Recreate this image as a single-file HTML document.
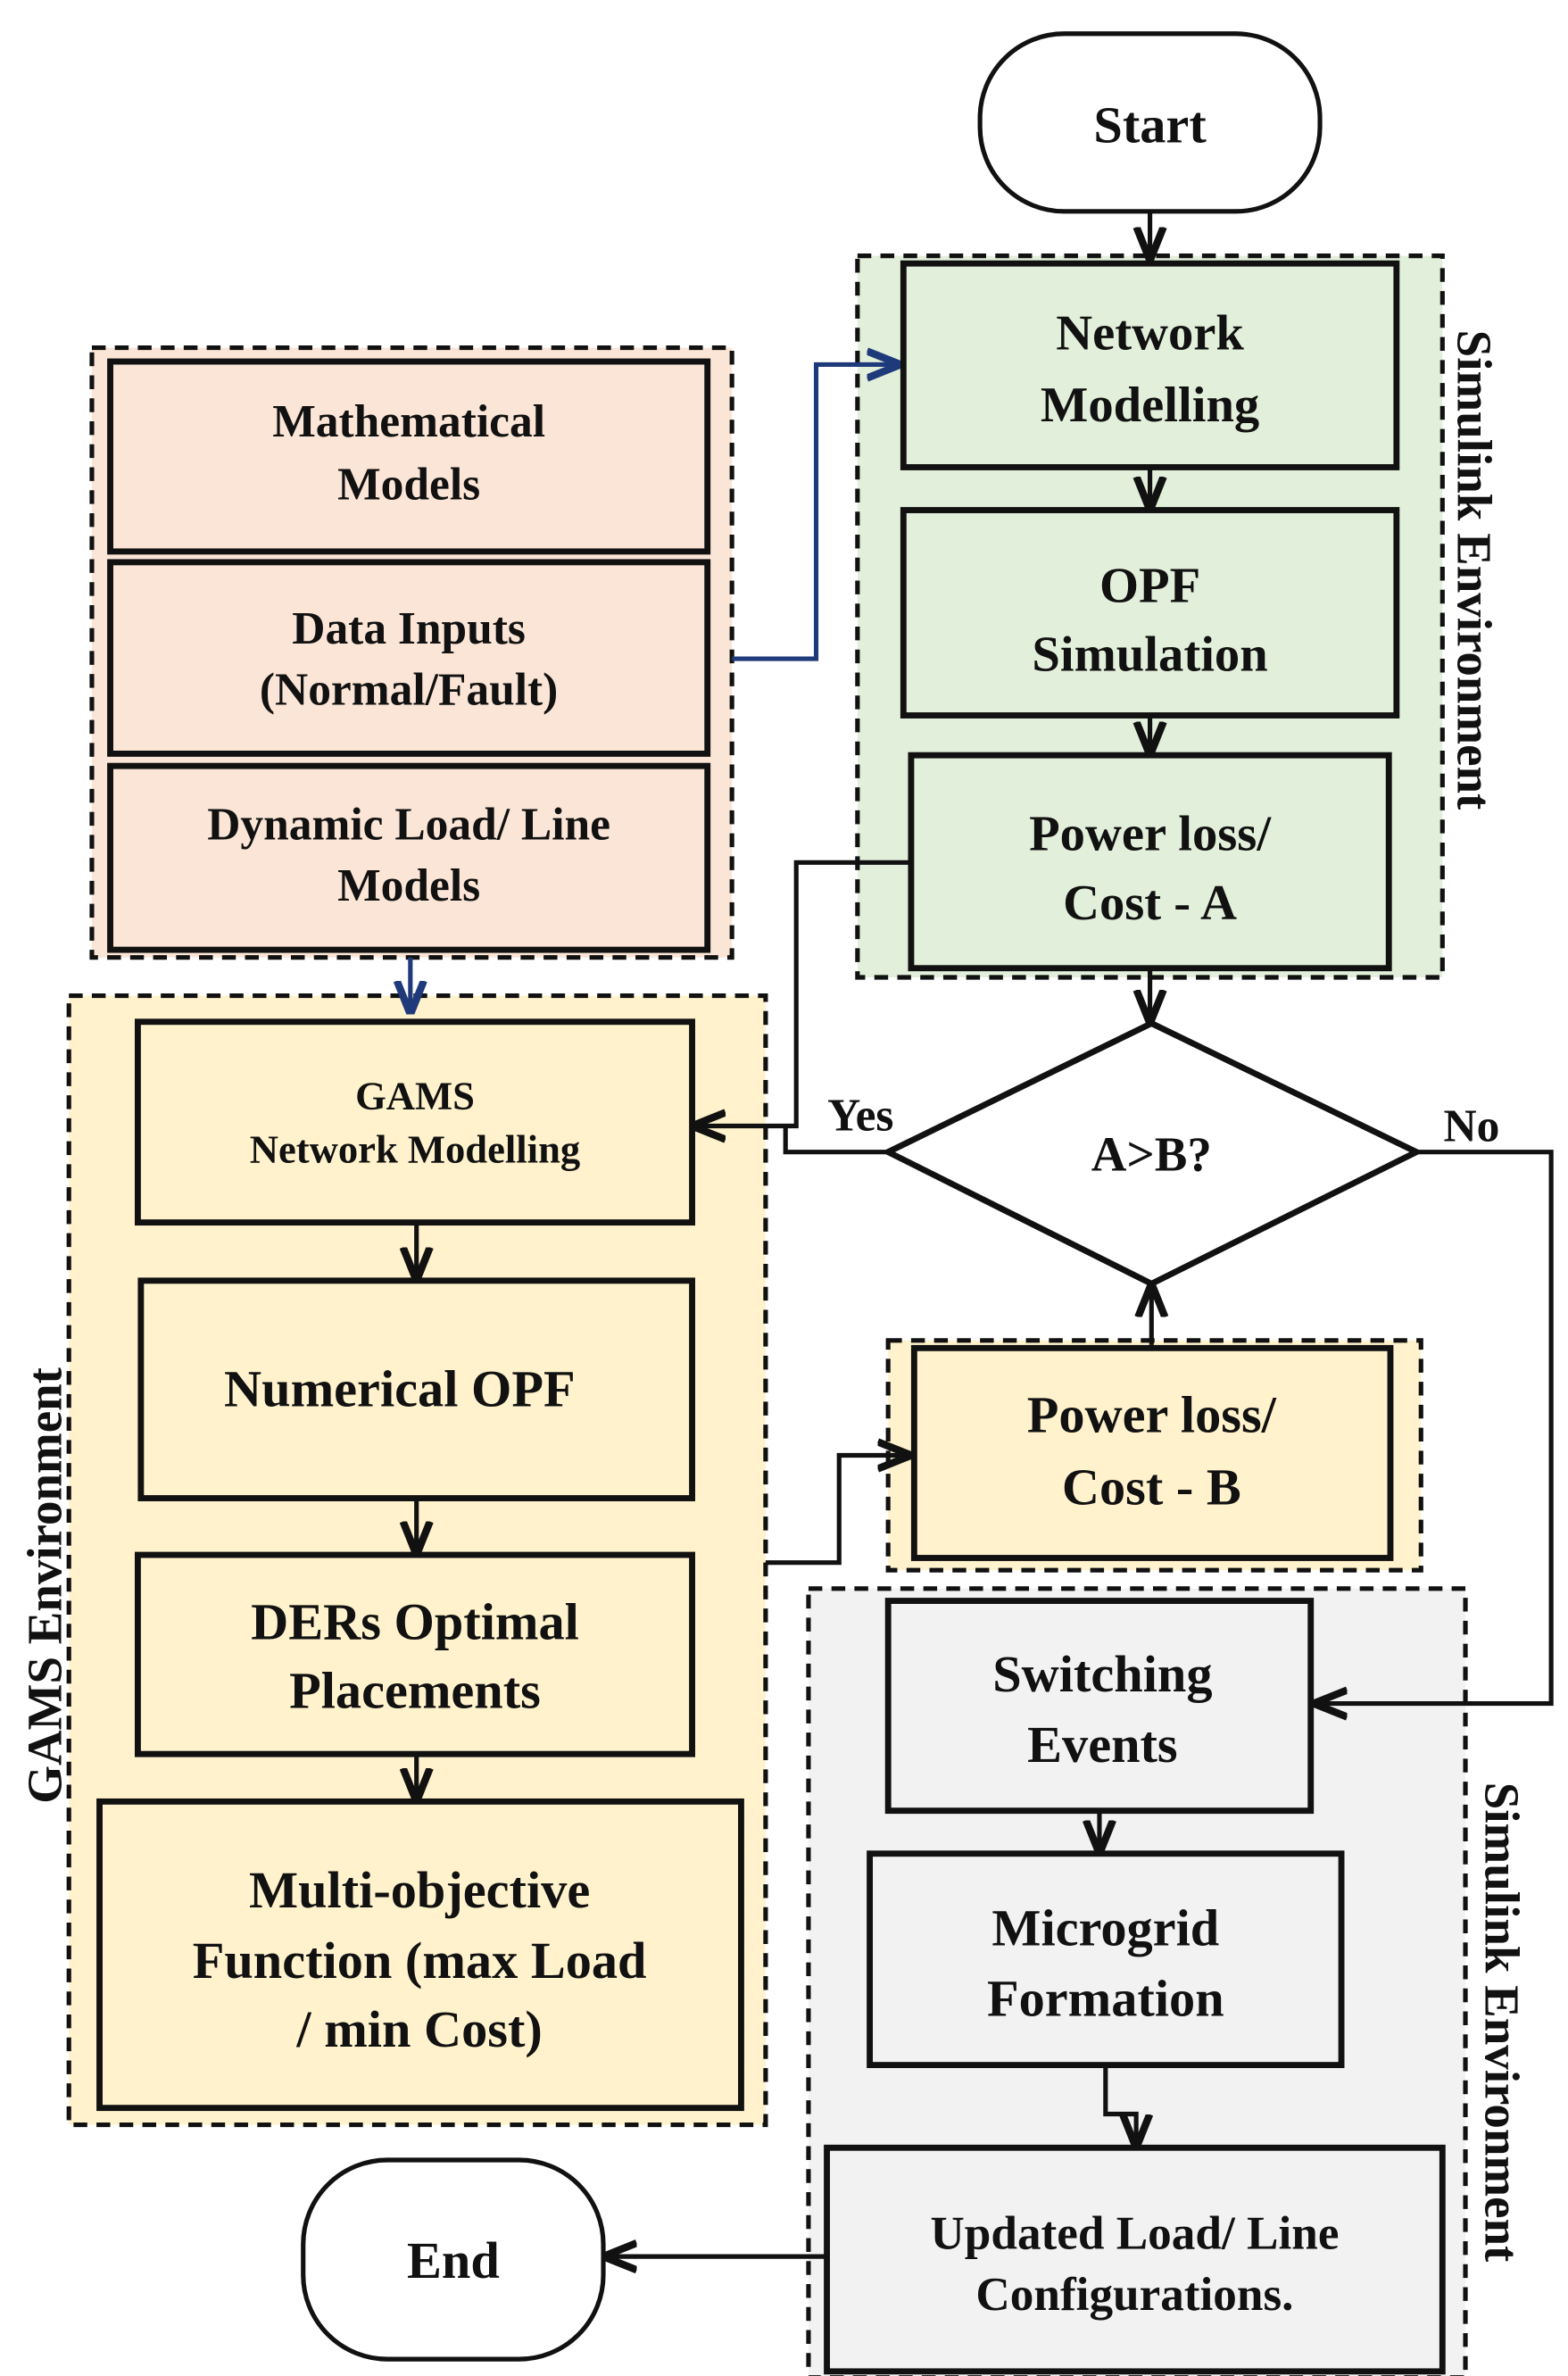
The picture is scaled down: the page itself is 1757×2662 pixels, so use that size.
<!DOCTYPE html>
<html><head><meta charset="utf-8"><style>
html,body{margin:0;padding:0;background:#fff}
svg{display:block}
svg text{font-family:"Liberation Serif","DejaVu Serif","Times New Roman",serif !important;font-weight:bold;fill:#111}
</style></head><body>
<svg width="1757" height="2662" viewBox="0 0 1024 1551" preserveAspectRatio="none" xmlns="http://www.w3.org/2000/svg" font-family="Liberation Serif, DejaVu Serif, serif" font-weight="bold">
<defs>
<marker id="a" viewBox="0 0 10 10" refX="9" refY="5" markerWidth="22" markerHeight="22" orient="auto" markerUnits="userSpaceOnUse"><path d="M0,1 L10,5 L0,9" fill="none" stroke="#111" stroke-width="2.2"/></marker>
<marker id="ab" viewBox="0 0 10 10" refX="9" refY="5" markerWidth="22" markerHeight="22" orient="auto" markerUnits="userSpaceOnUse"><path d="M0,1 L10,5 L0,9" fill="none" stroke="#1f3a7a" stroke-width="2.2"/></marker>
</defs>

<rect x="560" y="167" width="382" height="471" fill="#e2efda" stroke="#111" stroke-width="3" stroke-dasharray="9,6"/>
<rect x="60" y="227" width="418" height="398" fill="#fbe5d6" stroke="#111" stroke-width="3" stroke-dasharray="9,6"/>
<rect x="45" y="650" width="455" height="737" fill="#fff2cc" stroke="#111" stroke-width="3" stroke-dasharray="9,6"/>
<rect x="580" y="875" width="348" height="150" fill="#fff2cc" stroke="#111" stroke-width="3" stroke-dasharray="9,6"/>
<rect x="528" y="1037" width="429" height="515" fill="#f2f2f2" stroke="#111" stroke-width="3" stroke-dasharray="9,6"/>

<rect x="640" y="22" width="222" height="116" rx="55" fill="#fff" stroke="#111" stroke-width="3"/>
<text x="751" y="93" font-size="34" text-anchor="middle">Start</text>
<rect x="198" y="1410" width="196" height="130" rx="55" fill="#fff" stroke="#111" stroke-width="3"/>
<text x="296" y="1487" font-size="34" text-anchor="middle">End</text>

<g fill="#e2efda" stroke="#111" stroke-width="4">
<rect x="590" y="172" width="322" height="133"/>
<rect x="590" y="333" width="322" height="134"/>
<rect x="595" y="493" width="312" height="139"/>
</g>
<g font-size="33" text-anchor="middle">
<text x="751" y="228">Network</text><text x="751" y="275">Modelling</text>
<text x="751" y="393">OPF</text><text x="751" y="438">Simulation</text>
<text x="751" y="555">Power loss/</text><text x="751" y="600">Cost - A</text>
</g>

<g fill="#fbe5d6" stroke="#111" stroke-width="4">
<rect x="72" y="236" width="390" height="124"/>
<rect x="72" y="367" width="390" height="125"/>
<rect x="72" y="500" width="390" height="120"/>
</g>
<g font-size="30" text-anchor="middle">
<text x="267" y="285">Mathematical</text><text x="267" y="326">Models</text>
<text x="267" y="420">Data Inputs</text><text x="267" y="460">(Normal/Fault)</text>
<text x="267" y="548">Dynamic Load/ Line</text><text x="267" y="588">Models</text>
</g>

<g fill="#fff2cc" stroke="#111" stroke-width="4">
<rect x="90" y="667" width="362" height="131"/>
<rect x="92" y="836" width="360" height="142"/>
<rect x="90" y="1015" width="362" height="130"/>
<rect x="65" y="1176" width="419" height="200"/>
<rect x="597" y="880" width="311" height="137"/>
</g>
<g text-anchor="middle">
<text x="271" y="724" font-size="26">GAMS</text><text x="271" y="759" font-size="26">Network Modelling</text>
<text x="261" y="918" font-size="34">Numerical OPF</text>
<text x="271" y="1070" font-size="34">DERs Optimal</text><text x="271" y="1115" font-size="34">Placements</text>
<text x="274" y="1245" font-size="34">Multi-objective</text><text x="274" y="1291" font-size="34">Function (max Load</text><text x="274" y="1336" font-size="34">/ min Cost)</text>
<text x="752" y="935" font-size="34">Power loss/</text><text x="752" y="982" font-size="34">Cost - B</text>
</g>

<g fill="#f2f2f2" stroke="#111" stroke-width="4">
<rect x="580" y="1045" width="276" height="137"/>
<rect x="568" y="1210" width="308" height="138"/>
<rect x="540" y="1402" width="402" height="146"/>
</g>
<g text-anchor="middle">
<text x="720" y="1104" font-size="34">Switching</text><text x="720" y="1150" font-size="34">Events</text>
<text x="722" y="1270" font-size="34">Microgrid</text><text x="722" y="1316" font-size="34">Formation</text>
<text x="741" y="1468" font-size="31">Updated Load/ Line</text><text x="741" y="1508" font-size="31">Configurations.</text>
</g>

<polygon points="752,668 925,752 752,838 580,752" fill="#fff" stroke="#111" stroke-width="4"/>
<text x="752" y="764" font-size="32" text-anchor="middle">A&gt;B?</text>
<text x="562" y="738" font-size="30" text-anchor="middle">Yes</text>
<text x="961" y="745" font-size="30" text-anchor="middle">No</text>

<text transform="translate(952,372) rotate(90)" font-size="32" text-anchor="middle">Simulink Environment</text>
<text transform="translate(970,1320) rotate(90)" font-size="32" text-anchor="middle">Simulink Environment</text>
<text transform="translate(40,1035) rotate(-90)" font-size="32" text-anchor="middle">GAMS Environment</text>

<g fill="none" stroke="#111" stroke-width="3">
<line x1="751" y1="138" x2="751" y2="168" marker-end="url(#a)"/>
<line x1="751" y1="305" x2="751" y2="331" marker-end="url(#a)"/>
<line x1="751" y1="467" x2="751" y2="491" marker-end="url(#a)"/>
<line x1="751" y1="632" x2="751" y2="666" marker-end="url(#a)"/>
<polyline points="595,563 520,563 520,735 454,735" marker-end="url(#a)"/>
<polyline points="580,752 513,752 513,735"/>
<polyline points="925,752 1013,752 1013,1112 860,1112" marker-end="url(#a)"/>
<line x1="752" y1="878" x2="752" y2="840" marker-end="url(#a)"/>
<polyline points="500,1020 548,1020 548,950 593,950" marker-end="url(#a)"/>
<line x1="272" y1="798" x2="272" y2="834" marker-end="url(#a)"/>
<line x1="272" y1="978" x2="272" y2="1013" marker-end="url(#a)"/>
<line x1="272" y1="1145" x2="272" y2="1174" marker-end="url(#a)"/>
<line x1="718" y1="1182" x2="718" y2="1208" marker-end="url(#a)"/>
<polyline points="722,1348 722,1380 742,1380 742,1400" marker-end="url(#a)"/>
<line x1="540" y1="1473" x2="396" y2="1473" marker-end="url(#a)"/>
</g>
<g fill="none" stroke="#1f3a7a" stroke-width="3">
<polyline points="478,430 533,430 533,238 586,238" marker-end="url(#ab)"/>
<line x1="268" y1="625" x2="268" y2="660" marker-end="url(#ab)"/>
</g>
</svg>
</body></html>
